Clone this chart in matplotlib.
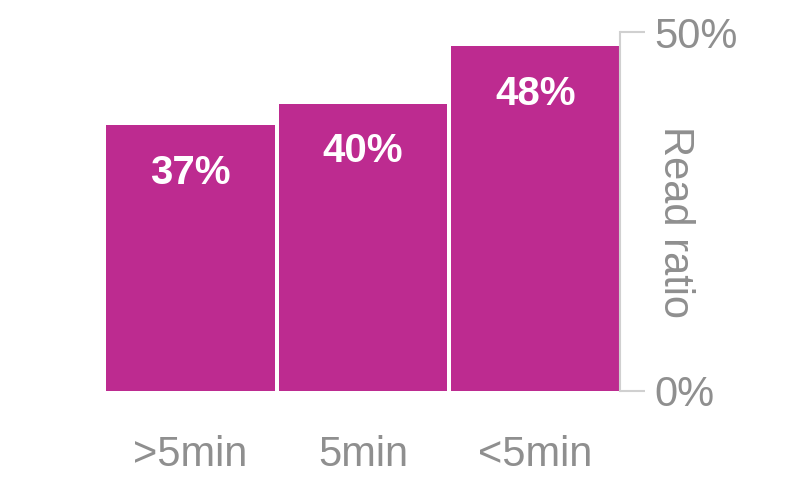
import matplotlib.pyplot as plt

categorias = ['>5min', '5min', '<5min']
valores = [37, 40, 48]
etiquetas = ['37%', '40%', '48%']
ticks_y = [0, 50]
ticks_y_txt = ['0%', '50%']

color_barra = '#bd2b90'
gris = '#8f8f8f'

plt.rcParams['font.family'] = ['Liberation Sans', 'DejaVu Sans']

fig = plt.figure(figsize=(8, 4.91), dpi=100)
ax = fig.add_axes([0.1325, 0.2037, 0.6425, 0.7311])

x = range(len(categorias))
ax.bar(x, valores, width=0.975, color=color_barra, linewidth=0)

for i, v in enumerate(valores):
    ax.text(i, v - 6.6, etiquetas[i], ha='center', va='center',
            color='white', fontsize=29, fontweight='bold')

ax.set_xlim(-0.49, 2.49)
ax.set_ylim(0, 50)

#ejes
for s in ['top', 'left', 'bottom']:
    ax.spines[s].set_visible(False)
ax.spines['right'].set_color('#d0d0d0')
ax.spines['right'].set_linewidth(1.5)

ax.yaxis.tick_right()
ax.set_yticks(ticks_y)
ax.set_yticklabels(ticks_y_txt)
ax.tick_params(axis='y', length=18, width=1.5, color='#d0d0d0', pad=7,
               labelsize=30, labelcolor=gris)

ax.set_xticks(list(x))
ax.set_xticklabels(categorias)
ax.tick_params(axis='x', length=0, pad=32, labelsize=30, labelcolor=gris)

ax.text(1.107, 0.472, 'Read ratio', rotation=270, color=gris, fontsize=30,
        ha='center', va='center', transform=ax.transAxes)

fig.savefig('out.png', dpi=100)
